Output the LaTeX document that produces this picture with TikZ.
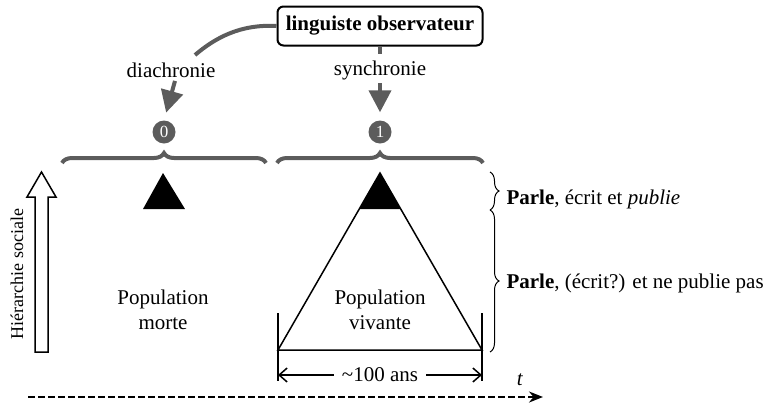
\documentclass[tikz,border=0pt]{standalone}
\usepackage{fontspec}
\setmainfont{Liberation Serif}
\usetikzlibrary{shapes,arrows,arrows.meta,positioning,calc,decorations.pathreplacing}
\definecolor{obsgray}{RGB}{92,92,92}
\tikzset{
observer/.style = {draw, line width=2pt, rounded corners=6pt, font=\fontsize{21}{25}\selectfont\bfseries, inner xsep=6pt, minimum height=39pt, minimum width=205pt},
viewline/.style = {draw=obsgray, line width=4pt},
viewarrow/.style = {viewline, -{Triangle[length=22pt,width=22pt]}, shorten >=8pt},
stamp/.style = {circle, fill=obsgray, text=white, font=\fontsize{17}{17}\selectfont, inner sep=0pt, minimum size=23pt},
topbrace/.style = {draw=obsgray, line width=4pt, decorate, decoration={brace, amplitude=10pt}},
sidebrace/.style = {draw, line width=1pt, decorate, decoration={brace, amplitude=9pt}},
pyramid/.style = {draw, line width=1.5pt, line join=miter},
leftspan/.style = {line width=1.5pt, {Straight Barb[length=8pt,width=14pt]}-},
rightspan/.style = {line width=1.5pt, -{Straight Barb[length=8pt,width=14pt]}},
timeline/.style = {line width=2pt, dash pattern=on 7pt off 3pt, -{Stealth[length=14pt,width=11pt]}}
}
\begin{document}
\begin{tikzpicture}[x=1pt, y=-1pt, font=\fontsize{21}{25}\selectfont]
    \useasboundingbox (0,0) rectangle (766,405);
    \node [observer] (obs) at (380,26) {linguiste observateur};
    \node (dia) at (171,70) {diachronie};
    \node (syn) at (380,70) {synchronie};
    \node [stamp] (d0) at (164,132) {0};
    \node [stamp] (d1) at (380,132) {1};
    \coordinate (diaend) at (195,55);
    \draw [viewline] (obs.west) .. controls (240,24) and (215,38) .. (diaend);
    \draw [viewline] (obs.south) -- ($(obs.south)+(0,7)$);
    \draw [viewarrow] ($(dia.south)+(4,0)$) -- (d0.north);
    \draw [viewarrow] (syn.south) -- (d1.north);
    \draw [topbrace] (62,163) -- (266,163);
    \draw [topbrace] (277,163) -- (483,163);
    \fill (163,173) -- (143,209) -- (185,209) -- cycle;
    \coordinate (top) at (380,173);
    \coordinate (pl) at (278,350);
    \coordinate (pr) at (482,350);
    \draw [pyramid] (top) -- (pl) -- (pr) -- cycle;
    \fill (top) -- (359.4,209) -- (400.6,209) -- cycle;
    \draw [line width=1.5pt] (278,313) -- (278,381);
    \draw [line width=1.5pt] (482,313) -- (482,381);
    \node [inner xsep=8pt] (years) at (380,375) {\textasciitilde100 ans};
    \coordinate (yl) at (278,375);
    \coordinate (yr) at (482,375);
    \draw [leftspan] (yl) -- (years.west);
    \draw [rightspan] (years.east) -- (yr);
    \node [align=center] (dead) at (163,310) {Population\\morte};
    \node [align=center] (alive) at (380,310) {Population\\vivante};
    \draw [line width=1.5pt] (35,352) -- (35,197) -- (27,197) -- (41.5,172) -- (56,197) -- (48,197) -- (48,352) -- cycle;
    \node [rotate=90, font=\fontsize{18}{20}\selectfont] (hier) at (17,274) {Hiérarchie sociale};
    \coordinate (tstart) at (28,397);
    \coordinate (tend) at (543,397);
    \draw [timeline] (tstart) -- (tend);
    \node (t) at (520,380) {\textit{t}};
    \draw [sidebrace] (490,172) -- (490,210);
    \draw [sidebrace] (490,210) -- (490,352);
    \node [anchor=west] (speak1) at (503,199) {\textbf{Parle}, écrit et \textit{publie}};
    \node [anchor=west] (speak2) at (503,283) {\textbf{Parle}, (écrit?) et ne publie pas};
\end{tikzpicture}
\end{document}
